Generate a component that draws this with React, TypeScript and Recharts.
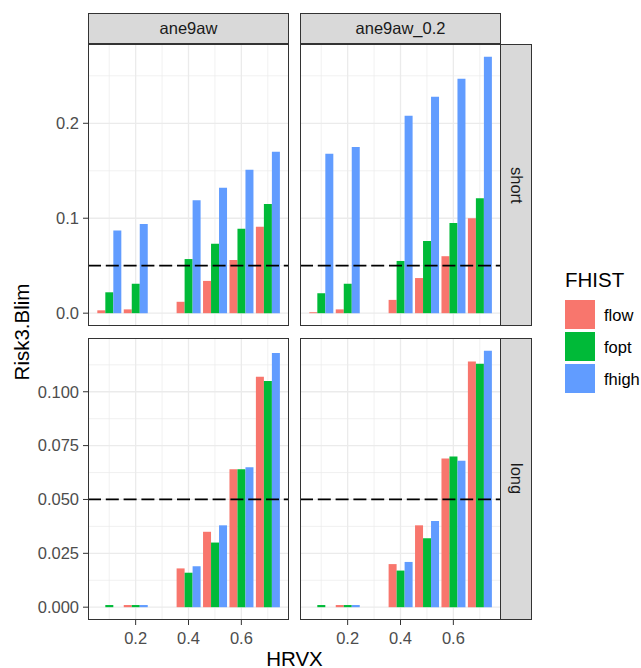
import { BarChart, Bar, XAxis, YAxis, ReferenceLine } from "recharts";

const hrvx = ["0.1", "0.2", "0.3", "0.4", "0.5", "0.6", "0.7"];
const fhist = ["flow", "fopt", "fhigh"];
const fhistColors = ["#F8766D", "#00BA38", "#619CFF"];

// short / ane9aw
const shortAneFlow = [0.003, 0.004, null, 0.012, 0.034, 0.056, 0.091];
const shortAneFopt = [0.022, 0.031, null, 0.057, 0.073, 0.089, 0.115];
const shortAneFhigh = [0.087, 0.094, null, 0.119, 0.132, 0.151, 0.17];
// short / ane9aw_0.2
const shortAne02Flow = [0.001, 0.004, null, 0.014, 0.037, 0.06, 0.1];
const shortAne02Fopt = [0.021, 0.031, null, 0.055, 0.076, 0.095, 0.121];
const shortAne02Fhigh = [0.168, 0.175, null, 0.208, 0.228, 0.247, 0.27];
// long / ane9aw
const longAneFlow = [0, 0.001, null, 0.018, 0.035, 0.064, 0.107];
const longAneFopt = [0.001, 0.001, null, 0.016, 0.03, 0.064, 0.105];
const longAneFhigh = [0, 0.001, null, 0.019, 0.038, 0.065, 0.118];
// long / ane9aw_0.2
const longAne02Flow = [0, 0.001, null, 0.02, 0.038, 0.069, 0.114];
const longAne02Fopt = [0.001, 0.001, null, 0.017, 0.032, 0.07, 0.113];
const longAne02Fhigh = [0, 0.001, null, 0.021, 0.04, 0.068, 0.119];

const shortTicks = [0, 0.1, 0.2];
const shortMinor = [0.05, 0.15, 0.25];
const longTicks = [0, 0.025, 0.05, 0.075, 0.1];
const longMinor = [0.0125, 0.0375, 0.0625, 0.0875, 0.1125];
const xMajor = ["0.2", "0.4", "0.6"];
const xMinor = ["0.1", "0.3", "0.5", "0.7"];
const shortDomain = [-0.0135, 0.2835];
const longDomain = [-0.00595, 0.12495];
const blimLine = 0.05;

const PW = 201;
const PH = 282;
const FONT = '"Liberation Sans", Arial, sans-serif';
const SMALL = 16.5;
const TITLE = 20.5;

function Panel({ left, top, flow, fopt, fhigh, domain, ticks, minor, digits, showY, showX }: any) {
    const data = hrvx.map((x, i) => ({ hrvx: x, flow: flow[i], fopt: fopt[i], fhigh: fhigh[i] }));
    const yw = showY ? 88 : 0;
    const xh = showX ? 40 : 0;
    return (
        <>
            <div style={{ position: "absolute", left: left - yw, top }}>
                <BarChart
                    width={PW + yw}
                    height={PH + xh}
                    data={data}
                    margin={{ top: 0, right: 0, bottom: 0, left: 0 }}
                    barCategoryGap="5%"
                    barGap={0}
                >
                    <XAxis
                        dataKey="hrvx"
                        hide={!showX}
                        height={xh}
                        padding={{ left: 8, right: 8 }}
                        ticks={xMajor}
                        interval={0}
                        tickSize={5}
                        tickMargin={7}
                        axisLine={false}
                        tickLine={{ stroke: "#333333" }}
                        tick={{ fill: "#4D4D4D", fontSize: SMALL }}
                    />
                    <YAxis
                        type="number"
                        domain={domain}
                        allowDataOverflow
                        ticks={ticks}
                        interval={0}
                        hide={!showY}
                        width={yw}
                        tickSize={5}
                        tickMargin={4}
                        axisLine={false}
                        tickLine={{ stroke: "#333333" }}
                        tick={{ fill: "#4D4D4D", fontSize: SMALL }}
                        tickFormatter={(v: number) => v.toFixed(digits)}
                    />
                    {minor.map((v: number) => (
                        <ReferenceLine key={"hm" + v} y={v} stroke="#EBEBEB" strokeWidth={0.7} zIndex={-90} />
                    ))}
                    {ticks.map((v: number) => (
                        <ReferenceLine key={"hM" + v} y={v} stroke="#EBEBEB" strokeWidth={1.3} zIndex={-90} />
                    ))}
                    {xMinor.map((v) => (
                        <ReferenceLine key={"vm" + v} x={v} stroke="#EBEBEB" strokeWidth={0.7} zIndex={-90} />
                    ))}
                    {xMajor.map((v) => (
                        <ReferenceLine key={"vM" + v} x={v} stroke="#EBEBEB" strokeWidth={1.3} zIndex={-90} />
                    ))}
                    {fhist.map((k, i) => (
                        <Bar key={k} dataKey={k} fill={fhistColors[i]} isAnimationActive={false} />
                    ))}
                    <ReferenceLine y={blimLine} stroke="#000000" strokeWidth={1.8} strokeDasharray="13 4.8" />
                </BarChart>
            </div>
            <div
                style={{
                    position: "absolute", left, top, width: PW, height: PH,
                    border: "1px solid #333333", boxSizing: "border-box", pointerEvents: "none",
                }}
            />
        </>
    );
}

function TopStrip({ left, label }: any) {
    return (
        <div
            style={{
                position: "absolute", left, top: 13, width: PW, height: 31, background: "#D9D9D9",
                border: "1px solid #333333", boxSizing: "border-box", display: "flex",
                alignItems: "center", justifyContent: "center", fontSize: SMALL, color: "#1A1A1A",
            }}
        >
            {label}
        </div>
    );
}

function SideStrip({ top, label }: any) {
    return (
        <div
            style={{
                position: "absolute", left: 500, top, width: 32, height: PH, background: "#D9D9D9",
                border: "1px solid #333333", boxSizing: "border-box", display: "flex",
                alignItems: "center", justifyContent: "center", fontSize: SMALL, color: "#1A1A1A",
            }}
        >
            <span style={{ writingMode: "vertical-rl" }}>{label}</span>
        </div>
    );
}

export default function App() {
    return (
        <div style={{ position: "absolute", left: 0, top: 0, width: 641, height: 668, background: "#fff", fontFamily: FONT, overflow: "hidden" }}>
            <Panel left={88} top={44} flow={shortAneFlow} fopt={shortAneFopt} fhigh={shortAneFhigh}
                domain={shortDomain} ticks={shortTicks} minor={shortMinor} digits={1} showY showX={false} />
            <Panel left={300} top={44} flow={shortAne02Flow} fopt={shortAne02Fopt} fhigh={shortAne02Fhigh}
                domain={shortDomain} ticks={shortTicks} minor={shortMinor} digits={1} showY={false} showX={false} />
            <Panel left={88} top={338} flow={longAneFlow} fopt={longAneFopt} fhigh={longAneFhigh}
                domain={longDomain} ticks={longTicks} minor={longMinor} digits={3} showY showX />
            <Panel left={300} top={338} flow={longAne02Flow} fopt={longAne02Fopt} fhigh={longAne02Fhigh}
                domain={longDomain} ticks={longTicks} minor={longMinor} digits={3} showY={false} showX />

            <TopStrip left={88} label="ane9aw" />
            <TopStrip left={300} label="ane9aw_0.2" />
            <SideStrip top={44} label="short" />
            <SideStrip top={338} label="long" />

            <div style={{ position: "absolute", left: 88, width: 413, top: 648.5, fontSize: TITLE, lineHeight: TITLE + "px", textAlign: "center", color: "#000" }}>
                HRVX
            </div>
            <div
                style={{
                    position: "absolute", left: 22 - 100, top: 332 - 12, width: 200, height: 24, lineHeight: "24px",
                    fontSize: TITLE, textAlign: "center", transform: "rotate(-90deg)", color: "#000",
                }}
            >
                Risk3.Blim
            </div>

            <div style={{ position: "absolute", left: 565, top: 270.3, fontSize: TITLE, lineHeight: TITLE + "px", color: "#000" }}>FHIST</div>
            {fhist.map((k, i) => (
                <div key={k} style={{ position: "absolute", left: 565, top: 300 + i * 32, height: 29, display: "flex", alignItems: "center" }}>
                    <div style={{ width: 30, height: 29, background: fhistColors[i] }} />
                    <div style={{ marginLeft: 9, fontSize: SMALL, lineHeight: "29px", position: "relative", top: 1, color: "#000", whiteSpace: "nowrap" }}>{k}</div>
                </div>
            ))}
        </div>
    );
}
